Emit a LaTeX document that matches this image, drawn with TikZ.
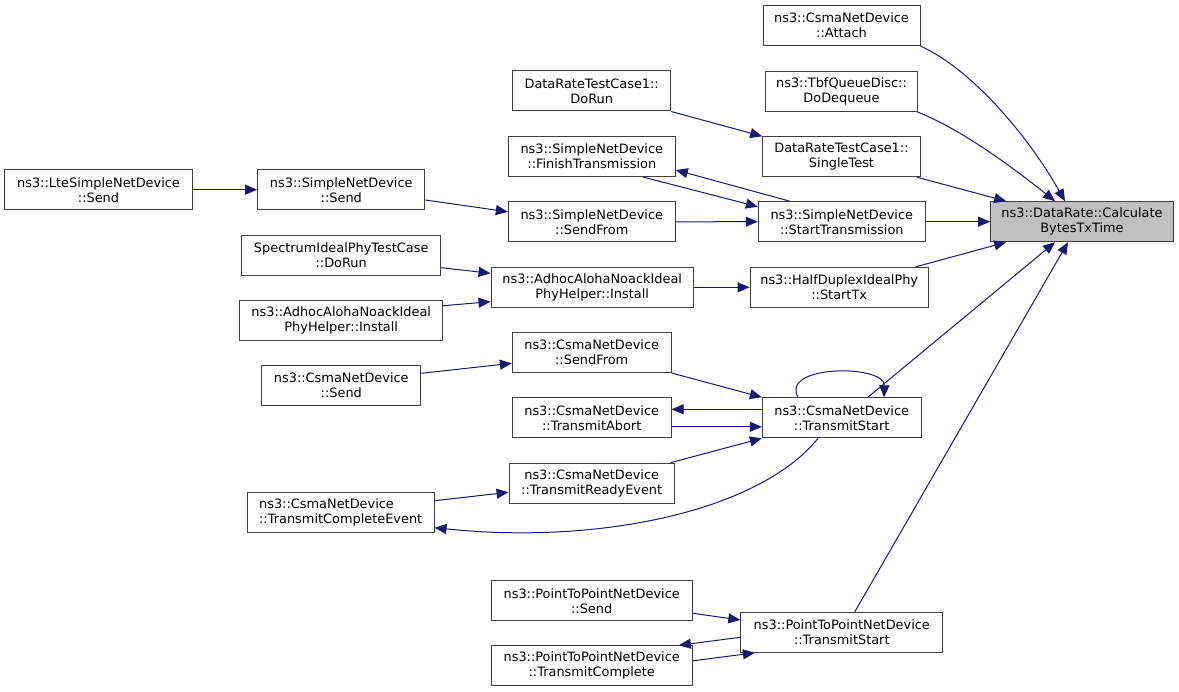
\documentclass[tikz,border=0pt]{standalone}
\usepackage{fontspec}
\setmainfont{DejaVu Sans}
\usetikzlibrary{arrows.meta,calc}
\definecolor{edgeblue}{HTML}{191970}
\definecolor{boxline}{HTML}{404040}
\definecolor{rootfill}{HTML}{BFBFBF}
\tikzset{
  fn/.style={draw=boxline, line width=1pt, fill=white, rectangle, inner sep=0pt,
    minimum height=40pt, align=center, font=\fontsize{12.9}{15}\selectfont, text=black},
  rootfn/.style={fn, fill=rootfill},
  call/.style={draw=edgeblue, line width=1pt, -{Triangle[length=12pt,width=10pt]}},
}
\begin{document}
\begin{tikzpicture}[x=1pt,y=-1pt]
\useasboundingbox (0,0) rectangle (1179,692);
% nodes
\node[fn, minimum width=157pt]   (attach)    at (841.5,25.5)  {ns3::CsmaNetDevice\\::Attach};
\node[fn, minimum width=152pt]   (tbf)       at (841.5,91.3)  {ns3::TbfQueueDisc::\\DoDequeue};
\node[fn, minimum width=158pt]   (dorun)     at (591.7,91)    {DataRateTestCase1::\\DoRun};
\node[fn, minimum width=157.6pt] (single)    at (841.5,156.8) {DataRateTestCase1::\\SingleTest};
\node[fn, minimum width=167pt]   (finish)    at (591.8,156.5) {ns3::SimpleNetDevice\\::FinishTransmission};
\node[fn, minimum width=187.6pt] (lte)       at (98.5,189.7)  {ns3::LteSimpleNetDevice\\::Send};
\node[fn, minimum width=167.3pt] (ssend)     at (341.3,189.7) {ns3::SimpleNetDevice\\::Send};
\node[fn, minimum width=167pt]   (sfrom)     at (591.8,221.8) {ns3::SimpleNetDevice\\::SendFrom};
\node[fn, minimum width=167pt]   (start)     at (841.8,221.7) {ns3::SimpleNetDevice\\::StartTransmission};
\node[rootfn, minimum width=182.6pt] (calc)  at (1082,221.7)  {ns3::DataRate::Calculate\\BytesTxTime};
\node[fn, minimum width=199pt]   (spec)      at (341.2,255.2) {SpectrumIdealPhyTestCase\\::DoRun};
\node[fn, minimum width=202.3pt] (adhocm)    at (592.2,287.3) {ns3::AdhocAlohaNoackIdeal\\PhyHelper::Install};
\node[fn, minimum width=203pt]   (adhocl)    at (341.2,320.5) {ns3::AdhocAlohaNoackIdeal\\PhyHelper::Install};
\node[fn, minimum width=178.3pt] (half)      at (839.2,287.3) {ns3::HalfDuplexIdealPhy\\::StartTx};
\node[fn, minimum width=158.7pt] (cfrom)     at (591.7,352.5) {ns3::CsmaNetDevice\\::SendFrom};
\node[fn, minimum width=159.3pt] (csend)     at (341.3,385.3) {ns3::CsmaNetDevice\\::Send};
\node[fn, minimum width=158.7pt] (abort)     at (591.7,417.8) {ns3::CsmaNetDevice\\::TransmitAbort};
\node[fn, minimum width=158.7pt] (tstart)    at (841.7,417.8) {ns3::CsmaNetDevice\\::TransmitStart};
\node[fn, minimum width=165.3pt] (ready)     at (591.7,483.2) {ns3::CsmaNetDevice\\::TransmitReadyEvent};
\node[fn, minimum width=186.7pt, align=left] (complete) at (340.7,512.5) {ns3::CsmaNetDevice\\::TransmitCompleteEvent};
\node[fn, minimum width=201.3pt] (psend)     at (591.7,600.7) {ns3::PointToPointNetDevice\\::Send};
\node[fn, minimum width=202pt]   (pstart)    at (841.8,632.3) {ns3::PointToPointNetDevice\\::TransmitStart};
\node[fn, minimum width=201.3pt] (pcomplete) at (591.7,665.8) {ns3::PointToPointNetDevice\\::TransmitComplete};
% edges into root
\draw[call] (attach.south east) .. controls +(54,25) and +(-35,-62) .. ($(calc.north)+(-17,0)$);
\draw[call] ($(tbf.south east)+(-1,0)$) .. controls +(44,17) and +(-40,-32) .. ($(calc.north)+(-27,0)$);
\draw[call] ($(single.south east)+(-3.6,0)$) -- ($(calc.north west)+(16,0)$);
\draw[call] (start.east) -- (calc.west);
\draw[call] ($(half.north east)+(-13,0)$) -- ($(calc.south west)+(16,0)$);
\draw[call] ($(tstart.north)+(26,0)$) -- ($(calc.south)+(-27,0)$);
\draw[call] ($(pstart.north)+(13,0)$) -- ($(calc.south)+(-14,0)$);
% simple net device
\draw[call] (dorun.south east) -- (single.north west);
\draw[call] ($(finish.south)+(51,0)$) -- ($(start.west)+(0,-15)$);
\draw[call] ($(start.north)+(-52,0)$) -- ($(finish.east)+(0,13.5)$);
\draw[call] (sfrom.east) -- (start.west);
\draw[call] (lte.east) -- (ssend.west);
\draw[call] ($(ssend.east)+(0,10.3)$) -- ($(sfrom.west)+(0,-10)$);
% spectrum
\draw[call] ($(spec.east)+(0,12.5)$) -- ($(adhocm.west)+(0,-14)$);
\draw[call] ($(adhocl.east)+(0,-14.8)$) -- ($(adhocm.west)+(0,14.4)$);
\draw[call] (adhocm.east) -- (half.west);
% csma
\draw[call] ($(csend.east)+(0,-12)$) -- ($(cfrom.west)+(0,10.8)$);
\draw[call] (cfrom.south east) -- (tstart.north west);
\draw[call] ($(tstart.west)+(0,-8.5)$) -- ($(abort.east)+(0,-8.5)$);
\draw[call] ($(abort.east)+(0,9)$) -- ($(tstart.west)+(0,9)$);
\draw[call] ($(ready.north east)+(-4.3,0)$) -- (tstart.south west);
\draw[call] ($(complete.east)+(0,-11.8)$) -- ($(ready.west)+(0,9.1)$);
\draw[call] ($(tstart.south)+(-23.7,0)$) .. controls +(-58,72.3) and +(166,17.3) .. ($(complete.east)+(0,15.2)$);
\draw[call] ($(tstart.north)+(-43.7,0)$) .. controls +(-18,-33) and +(1,-33) .. ($(tstart.north)+(42.3,0)$);
% point to point
\draw[call] ($(psend.east)+(0,12.6)$) -- ($(pstart.west)+(0,-12.3)$);
\draw[call] ($(pstart.west)+(0,5)$) -- ($(pcomplete.north east)+(-14,0)$);
\draw[call] ($(pcomplete.east)+(0,-5)$) -- ($(pstart.south west)+(14.6,0)$);
\end{tikzpicture}
\end{document}
